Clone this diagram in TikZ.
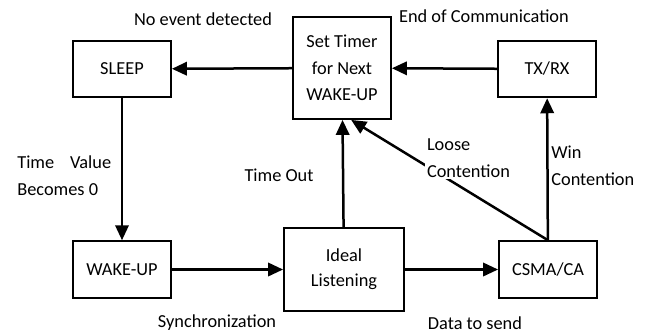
\documentclass[tikz,border=0pt]{standalone}
\usepackage{fontspec}
\setmainfont{Carlito}
\usetikzlibrary{arrows.meta}

\tikzset{
  stbox/.style={draw,line width=1.1pt,align=center,inner sep=2pt,
    minimum width=58.8pt,minimum height=34pt},
  flow/.style={line width=1.5pt,-{Triangle[length=9pt,width=8pt]}},
  lbl/.style={inner sep=0pt,align=left}
}

\begin{document}
\begin{tikzpicture}[x=0.6pt,y=-0.6pt,font=\fontsize{11}{16}\selectfont]

        \useasboundingbox (0,0) rectangle (646,333);

        \begin{scope}[every node/.style={stbox}]
          \node (sleep)  at (122,69)  {SLEEP};
          \node[minimum height=61.2pt] (timer) at (342,68) {Set Timer\\for Next\\WAKE-UP};
          \node (txrx)   at (547,69)  {TX/RX};
          \node (wake)   at (122,269.5) {WAKE-UP};
          \node[minimum width=72pt,minimum height=49.8pt,font=\fontsize{11}{15}\selectfont]
                (ideal)  at (344,269.5) {Ideal\\Listening};
          \node (csma)   at (548,269.5) {CSMA/CA};
        \end{scope}

        \begin{scope}[every path/.style={flow}]
          \draw (timer) -- (sleep);
          \draw (txrx)  -- (timer);
          \draw (sleep) -- (wake);
          \draw (wake)  -- (ideal);
          \draw (ideal) -- (csma);
          \draw (ideal) -- (timer);
          \draw (csma)  -- (txrx);
          \draw (csma.north) -- (timer.-80);
        \end{scope}

        \begin{scope}[every node/.style={lbl}]
          \node (noevt) at (203,19) {No event detected};
          \node (endcom) at (484,16) {End of Communication};
          \node[anchor=west] (zero) at (17,176) {Time\hspace{7pt} Value\\Becomes 0};
          \node (tout) at (279,175) {Time Out};
          \node (sync) at (217,323) {Synchronization};
          \node (dsend) at (475,323) {Data to send};
          \node[anchor=west,fill=white,inner sep=1pt] (loose) at (425,158) {Loose\\Contention};
          \node[anchor=west] (win) at (551,166) {Win\\Contention};
        \end{scope}

      \end{tikzpicture}
\end{document}
